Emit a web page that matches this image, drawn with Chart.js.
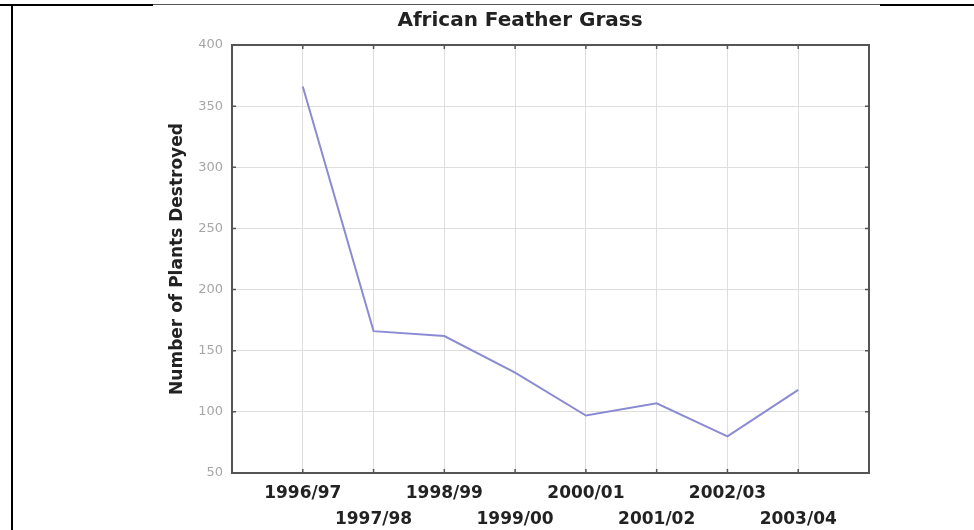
<!DOCTYPE html>
<html lang="en">
<head>
    <meta charset="UTF-8">
    <title>African Feather Grass</title>
    <script src="https://cdn.jsdelivr.net/npm/chart.js"></script>
    <style>
        body {
            margin: 0;
            background: #fff;
        }
        .wrap {
            position: relative;
            width: 974px;
            height: 530px;
        }
        .frame-top {
            position: absolute;
            left: 0;
            top: 4px;
            width: 974px;
            height: 1px;
            background: #555;
        }
        .frame-top.thick-l { left: 0; width: 153px; height: 2px; background: #000; }
        .frame-top.thick-r { left: 880px; width: 94px; height: 2px; background: #000; }
        .frame-left {
            position: absolute;
            left: 11px;
            top: 4px;
            width: 2px;
            height: 526px;
            background: #000;
        }
        .chart-title {
            position: absolute;
            left: 0;
            top: 9px;
            width: 1040px;
            text-align: center;
            font: bold 20px "DejaVu Sans", Arial, sans-serif;
            line-height: 20px;
            color: #222;
        }
        canvas {
            position: absolute;
            left: 0;
            top: 0;
        }
    </style>
</head>
<body>
<div class="wrap">
    <canvas id="grassChart" width="974" height="530"></canvas>
    <div class="frame-top"></div>
    <div class="frame-top thick-l"></div>
    <div class="frame-top thick-r"></div>
    <div class="frame-left"></div>
    <div class="chart-title">African Feather Grass</div>
</div>

<script>
    const seasons = ["1996/97", "1997/98", "1998/99", "1999/00", "2000/01", "2001/02", "2002/03", "2003/04"];
    const plantsDestroyed = [366, 166, 162, 132, 97, 107, 80, 118];
    const yTicks = [50, 100, 150, 200, 250, 300, 350, 400];

    // box round the plot + small inward tick marks on every side
    const frameBox = {
        id: 'frameBox',
        afterDraw(chart) {
            const ctx = chart.ctx;
            const a = chart.chartArea;
            const xs = chart.scales.x;
            const ys = chart.scales.y;
            ctx.save();
            ctx.strokeStyle = '#555';
            ctx.lineWidth = 2;
            ctx.strokeRect(a.left, a.top, a.right - a.left, a.bottom - a.top);
            ctx.lineWidth = 1.5;
            ctx.beginPath();
            for (let i = 1; i <= seasons.length; i++) {
                const px = xs.getPixelForValue(i);
                ctx.moveTo(px, a.top); ctx.lineTo(px, a.top + 4);
                ctx.moveTo(px, a.bottom); ctx.lineTo(px, a.bottom - 4);
            }
            yTicks.forEach(v => {
                const py = ys.getPixelForValue(v);
                ctx.moveTo(a.left, py); ctx.lineTo(a.left + 4, py);
                ctx.moveTo(a.right, py); ctx.lineTo(a.right - 4, py);
            });
            ctx.stroke();
            ctx.restore();
        }
    };

    const ctx = document.getElementById('grassChart').getContext('2d');

    new Chart(ctx, {
        type: 'line',
        data: {
            datasets: [{
                label: 'Number of Plants Destroyed',
                data: seasons.map((s, i) => ({ x: i + 1, y: plantsDestroyed[i] })),
                borderColor: '#8b8bd3',
                borderWidth: 2,
                pointRadius: 0,
                tension: 0,
                fill: false
            }]
        },
        options: {
            responsive: false,
            animation: false,
            devicePixelRatio: 1,
            layout: {
                padding: { left: 0, right: 105, top: 45, bottom: 0 }
            },
            plugins: {
                legend: { display: false },
                tooltip: { enabled: false },
                title: { display: false }
            },
            scales: {
                x: {
                    type: 'linear',
                    min: 0,
                    max: seasons.length + 1,
                    afterBuildTicks: scale => {
                        scale.ticks = [];
                        for (let i = 0; i <= seasons.length + 1; i++) scale.ticks.push({ value: i });
                    },
                    afterFit: scale => { scale.height = 57; },
                    grid: {
                        color: '#dedede',
                        lineWidth: 1,
                        drawTicks: false
                    },
                    border: { color: '#555', width: 2 },
                    ticks: {
                        autoSkip: false,
                        maxRotation: 0,
                        padding: 8,
                        color: '#222',
                        font: { family: 'DejaVu Sans', size: 17, weight: 'bold', lineHeight: 26 / 17 },
                        callback: function(value) {
                            const i = value - 1;
                            if (i < 0 || i >= seasons.length) return '';
                            return i % 2 === 0 ? [seasons[i], ''] : ['', seasons[i]];
                        }
                    }
                },
                y: {
                    min: 50,
                    max: 400,
                    afterBuildTicks: scale => {
                        scale.ticks = yTicks.map(v => ({ value: v }));
                    },
                    afterFit: scale => { scale.width = 232; },
                    grid: {
                        color: '#dedede',
                        lineWidth: 1,
                        drawTicks: false
                    },
                    border: { color: '#555', width: 2 },
                    ticks: {
                        padding: 9,
                        color: '#a6a6a6',
                        font: { family: 'DejaVu Sans', size: 13 }
                    },
                    title: {
                        display: true,
                        text: 'Number of Plants Destroyed',
                        color: '#222',
                        font: { family: 'DejaVu Sans', size: 17, weight: 'bold', lineHeight: 1.2 },
                        padding: { top: 167, bottom: 0 }
                    }
                }
            }
        },
        plugins: [frameBox]
    });
</script>
</body>
</html>
